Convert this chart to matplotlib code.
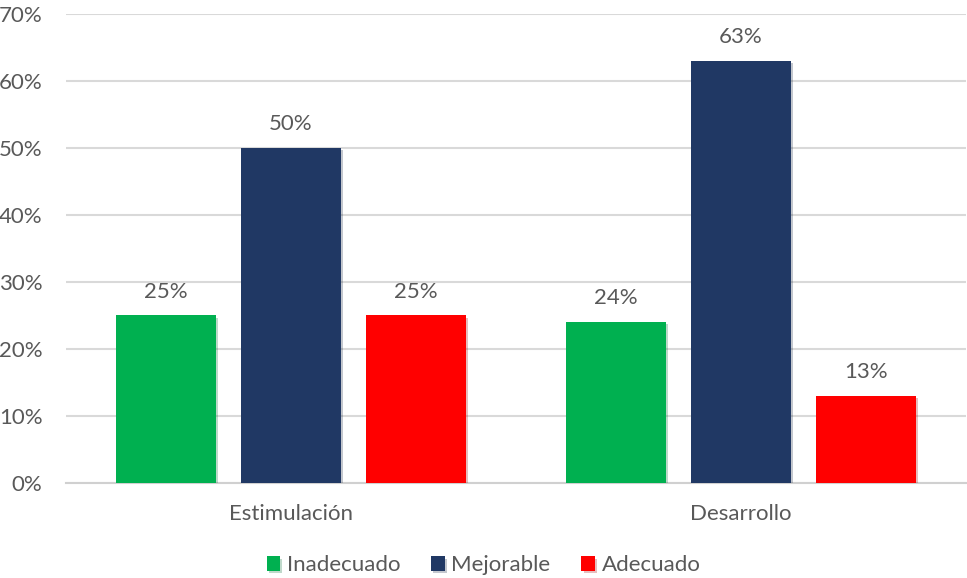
import numpy as np
import matplotlib
matplotlib.use("Agg")
import matplotlib.pyplot as plt
import matplotlib.patheffects as pe
from matplotlib.ticker import FuncFormatter

categorias = ["Estimulación", "Desarrollo"]
series = ["Inadecuado", "Mejorable", "Adecuado"]
inadecuado = [25, 24]
mejorable = [50, 63]
adecuado = [25, 13]
colores = ["#00B050", "#203864", "#FF0000"]

plt.rcParams['font.family'] = ['Lato', 'DejaVu Sans']
gris = "#595959"
fs = 16

fig = plt.figure(figsize=(9.67, 5.78), dpi=100)
ax = fig.add_axes([0.0683, 0.1644, 0.9307, 0.8114])

x = np.arange(len(categorias))
ancho = 0.222
desp = 0.278
sombra = [pe.SimplePatchShadow(offset=(1.5, -1.5), alpha=0.25, rho=0.6), pe.Normal()]

for i, (nombre, vals) in enumerate(zip(series, [inadecuado, mejorable, adecuado])):
    barras = ax.bar(x + (i - 1) * desp, vals, ancho, color=colores[i], label=nombre, zorder=3)
    for b in barras:
        b.set_path_effects(sombra)
    for xi, v in zip(x + (i - 1) * desp, vals):
        ax.annotate(f"{v}%", (xi, v), xytext=(0, 10), textcoords="offset points",
                    ha="center", va="bottom", fontsize=fs, color=gris)

ax.set_xlim(-0.5, 1.5)
ax.set_ylim(0, 70)
ax.set_yticks(range(0, 71, 10))
ax.yaxis.set_major_formatter(FuncFormatter(lambda v, p: f"{int(v)}%"))
ax.set_xticks(x)
ax.set_xticklabels(categorias)
ax.tick_params(axis="both", length=0, labelsize=fs, labelcolor=gris)
ax.tick_params(axis="x", pad=15)
ax.tick_params(axis="y", pad=17)
ax.grid(axis="y", color="#D9D9D9", linewidth=1.5, zorder=0)
for s in ["top", "right", "left"]:
    ax.spines[s].set_visible(False)
ax.spines["bottom"].set_color("#D0D0D0")
ax.spines["bottom"].set_linewidth(1.5)

fig.legend(loc="lower center", bbox_to_anchor=(0.5, -0.03), ncol=3, frameon=False,
           fontsize=fs, labelcolor=gris, handlelength=0.6, handleheight=0.6,
           handletextpad=0.3, columnspacing=1.4)

fig.savefig("out.png", dpi=100)
